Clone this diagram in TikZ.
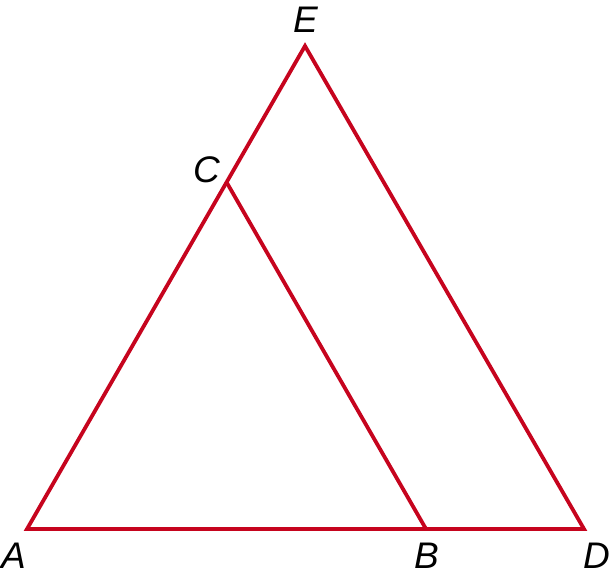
\documentclass[tikz,border=0pt]{standalone}
\usepackage{fontspec}
\setmainfont{Liberation Sans}
\usepackage{tikz}
\definecolor{edgered}{RGB}{198,4,30}

\begin{document}
\begin{tikzpicture}[x=1pt,y=-1pt,
        edge/.style={draw=edgered,line width=3.8pt,line join=miter},
        pointlabel/.style={font=\fontsize{37}{44}\selectfont\itshape,inner sep=0pt}]
        \useasboundingbox (0,0) rectangle (612,584);

        \coordinate (A) at (27,529);
        \coordinate (B) at (426,529);
        \coordinate (D) at (584,529);
        \coordinate (E) at (305,46);
        \coordinate (C) at (227,183);

        \draw [edge] (A) -- (D) -- (E) -- cycle;
        \draw [edge] (C) -- (B);

        \node [pointlabel] (lA) at (14,556) {A};
        \node [pointlabel] (lB) at (427,556) {B};
        \node [pointlabel] (lD) at (597,556) {D};
        \node [pointlabel] (lE) at (306,20) {E};
        \node [pointlabel] (lC) at (207,170) {C};
    \end{tikzpicture}
\end{document}
